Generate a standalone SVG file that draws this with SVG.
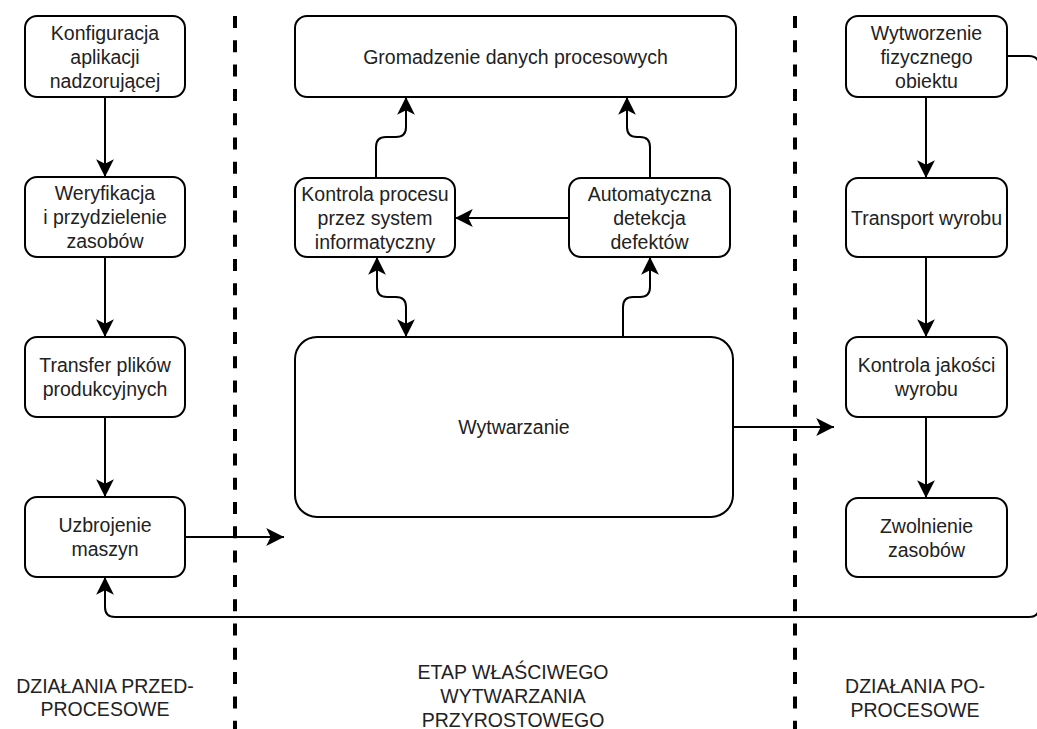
<svg xmlns="http://www.w3.org/2000/svg" width="1037" height="729" viewBox="0 0 1037 729">
  <style>
    .box { fill: #ffffff; stroke: #000000; stroke-width: 2; }
    .lbl { font-family: "Liberation Sans", Arial, sans-serif; font-size: 19.5px; fill: #222222; text-anchor: middle; }
    .edge { fill: none; stroke: #000000; stroke-width: 2; }
    .lane { stroke: #000000; stroke-width: 4; stroke-dasharray: 12 12.3; }
  </style>
  <defs>
    <marker id="arrow" markerUnits="userSpaceOnUse" markerWidth="20" markerHeight="20" viewBox="-17 -9 18 18" refX="0" refY="0" orient="auto-start-reverse">
      <path d="M0,0 L-16,-8 L-12,0 L-16,8 Z" fill="#000000"/>
    </marker>
  </defs>

  <rect width="1037" height="729" fill="#ffffff"/>

  <!-- lane separators -->
  <g id="lanes">
    <line class="lane" x1="235" y1="16" x2="235" y2="729"/>
    <line class="lane" x1="795" y1="16" x2="795" y2="729"/>
  </g>

  <!-- connectors -->
  <g id="connectors">
    <path class="edge" d="M105,97 V177" marker-end="url(#arrow)"/>
    <path class="edge" d="M105,257 V337" marker-end="url(#arrow)"/>
    <path class="edge" d="M105,417 V497" marker-end="url(#arrow)"/>
    <path class="edge" d="M185,537 H284" marker-end="url(#arrow)"/>

    <path class="edge" d="M376,178 V147 Q376,137 386,137 H396 Q406,137 406,127 V97" marker-end="url(#arrow)"/>
    <path class="edge" d="M650,178 V147 Q650,137 640,137 H637 Q627,137 627,127 V97" marker-end="url(#arrow)"/>
    <path class="edge" d="M569,218 H455" marker-end="url(#arrow)"/>
    <path class="edge" d="M377,257 V287 Q377,297 387,297 H396 Q406,297 406,307 V337" marker-start="url(#arrow)" marker-end="url(#arrow)"/>
    <path class="edge" d="M623,337 V307 Q623,297 633,297 H640 Q650,297 650,287 V257" marker-end="url(#arrow)"/>
    <path class="edge" d="M733,427 H834" marker-end="url(#arrow)"/>

    <path class="edge" d="M926,97 V178" marker-end="url(#arrow)"/>
    <path class="edge" d="M926,257 V337" marker-end="url(#arrow)"/>
    <path class="edge" d="M926,417 V498" marker-end="url(#arrow)"/>

    <path class="edge" d="M1007,56 H1029 Q1039,56 1039,66 V607 Q1039,617 1029,617 H115 Q105,617 105,607 V577" marker-end="url(#arrow)"/>
  </g>

  <!-- pre-process column -->
  <g id="konfiguracja">
    <rect class="box" x="25" y="16" width="160" height="81" rx="12"/>
    <text class="lbl" x="105" y="39.5">Konfiguracja</text>
    <text class="lbl" x="105" y="63.5">aplikacji</text>
    <text class="lbl" x="105" y="87.5">nadzorującej</text>
  </g>
  <g id="weryfikacja">
    <rect class="box" x="25" y="177" width="160" height="80" rx="12"/>
    <text class="lbl" x="105" y="200">Weryfikacja</text>
    <text class="lbl" x="105" y="224">i przydzielenie</text>
    <text class="lbl" x="105" y="248">zasobów</text>
  </g>
  <g id="transfer">
    <rect class="box" x="25" y="337" width="160" height="80" rx="12"/>
    <text class="lbl" x="105" y="372">Transfer plików</text>
    <text class="lbl" x="105" y="396">produkcyjnych</text>
  </g>
  <g id="uzbrojenie">
    <rect class="box" x="25" y="497" width="160" height="80" rx="12"/>
    <text class="lbl" x="105" y="532">Uzbrojenie</text>
    <text class="lbl" x="105" y="556">maszyn</text>
  </g>

  <!-- additive manufacturing column -->
  <g id="gromadzenie">
    <rect class="box" x="295" y="16" width="441" height="81" rx="12"/>
    <text class="lbl" x="515.5" y="63.5">Gromadzenie danych procesowych</text>
  </g>
  <g id="kontrola-procesu">
    <rect class="box" x="295" y="178" width="160" height="79" rx="12"/>
    <text class="lbl" x="375" y="200.5">Kontrola procesu</text>
    <text class="lbl" x="375" y="224.5">przez system</text>
    <text class="lbl" x="375" y="248.5">informatyczny</text>
  </g>
  <g id="detekcja">
    <rect class="box" x="569" y="178" width="161" height="79" rx="12"/>
    <text class="lbl" x="649.5" y="200.5">Automatyczna</text>
    <text class="lbl" x="649.5" y="224.5">detekcja</text>
    <text class="lbl" x="649.5" y="248.5">defektów</text>
  </g>
  <g id="wytwarzanie">
    <rect class="box" x="295" y="337" width="438" height="180" rx="22"/>
    <text class="lbl" x="514" y="434">Wytwarzanie</text>
  </g>

  <!-- post-process column -->
  <g id="wytworzenie">
    <rect class="box" x="846" y="16" width="161" height="81" rx="12"/>
    <text class="lbl" x="926.5" y="39.5">Wytworzenie</text>
    <text class="lbl" x="926.5" y="63.5">fizycznego</text>
    <text class="lbl" x="926.5" y="87.5">obiektu</text>
  </g>
  <g id="transport">
    <rect class="box" x="846" y="178" width="161" height="79" rx="12"/>
    <text class="lbl" x="926.5" y="224.5">Transport wyrobu</text>
  </g>
  <g id="kontrola-jakosci">
    <rect class="box" x="846" y="337" width="161" height="80" rx="12"/>
    <text class="lbl" x="926.5" y="372">Kontrola jakości</text>
    <text class="lbl" x="926.5" y="396">wyrobu</text>
  </g>
  <g id="zwolnienie">
    <rect class="box" x="846" y="498" width="161" height="79" rx="12"/>
    <text class="lbl" x="926.5" y="532.5">Zwolnienie</text>
    <text class="lbl" x="926.5" y="556.5">zasobów</text>
  </g>

  <!-- lane titles -->
  <g id="lane-titles">
    <text class="lbl" x="105" y="693">DZIAŁANIA PRZED-</text>
    <text class="lbl" x="105" y="716">PROCESOWE</text>
    <text class="lbl" x="513" y="679">ETAP WŁAŚCIWEGO</text>
    <text class="lbl" x="513" y="703">WYTWARZANIA</text>
    <text class="lbl" x="513" y="727">PRZYROSTOWEGO</text>
    <text class="lbl" x="915" y="693">DZIAŁANIA PO-</text>
    <text class="lbl" x="915" y="717">PROCESOWE</text>
  </g>
</svg>
